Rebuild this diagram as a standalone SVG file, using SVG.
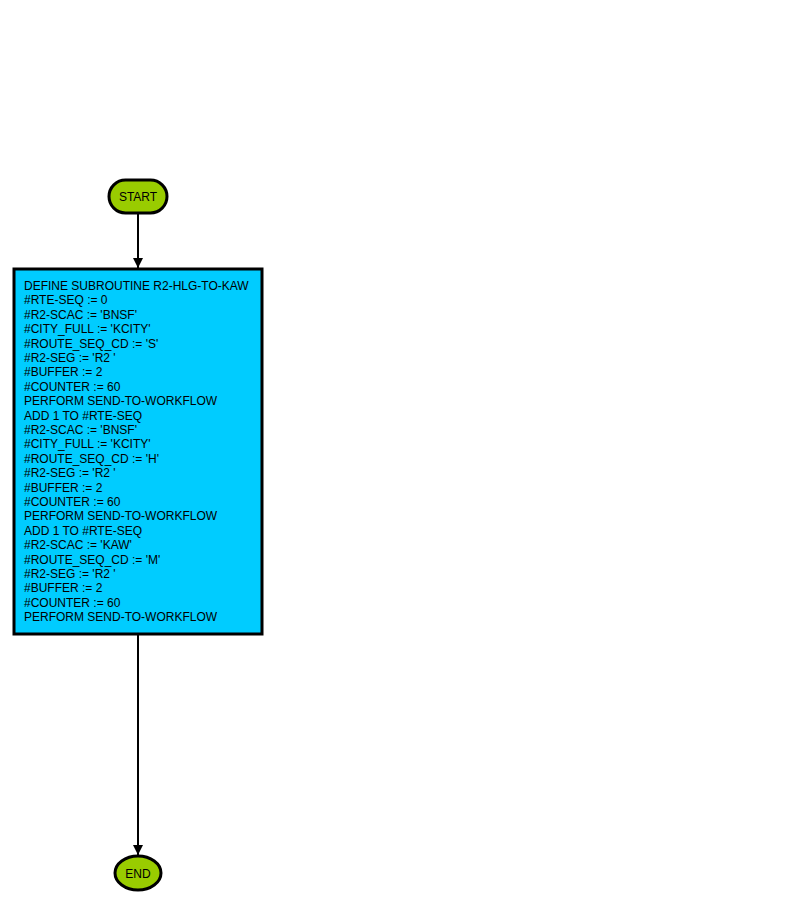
<svg xmlns="http://www.w3.org/2000/svg" width="800" height="901" viewBox="0 0 800 901">
<style>
.term{fill:#99cc00;stroke:#000;stroke-width:3}
.proc{fill:#00ccff;stroke:#000;stroke-width:3}
.lbl{font-family:"Liberation Sans",Arial,sans-serif;font-size:12px;fill:#000}
.edge{stroke:#000;stroke-width:2;fill:none;marker-end:url(#arr)}
</style>
<defs>
<marker id="arr" viewBox="0 0 10 10" refX="10" refY="5" markerWidth="5" markerHeight="5" orient="auto" markerUnits="strokeWidth">
<path d="M0,0 L10,5 L0,10 z" fill="#000"/>
</marker>
</defs>
<rect width="800" height="901" fill="#fff"/>
<g id="connectors">
<line class="edge" x1="138" y1="213" x2="138" y2="268"/>
<line class="edge" x1="138" y1="635" x2="138" y2="855"/>
</g>
<g id="start">
<rect class="term" x="109" y="180" width="58" height="33" rx="16.5" ry="16.5"/>
<text class="lbl" x="138" y="200.5" text-anchor="middle">START</text>
</g>
<g id="process">
<rect class="proc" x="14" y="269" width="248" height="365"/>
<text class="lbl" x="24" y="290">
<tspan x="24" dy="0">DEFINE SUBROUTINE R2-HLG-TO-KAW</tspan>
<tspan x="24" dy="14.4">#RTE-SEQ := 0</tspan>
<tspan x="24" dy="14.4">#R2-SCAC := 'BNSF'</tspan>
<tspan x="24" dy="14.4">#CITY_FULL := 'KCITY'</tspan>
<tspan x="24" dy="14.4">#ROUTE_SEQ_CD := 'S'</tspan>
<tspan x="24" dy="14.4">#R2-SEG := 'R2 '</tspan>
<tspan x="24" dy="14.4">#BUFFER := 2</tspan>
<tspan x="24" dy="14.4">#COUNTER := 60</tspan>
<tspan x="24" dy="14.4">PERFORM SEND-TO-WORKFLOW</tspan>
<tspan x="24" dy="14.4">ADD 1 TO #RTE-SEQ</tspan>
<tspan x="24" dy="14.4">#R2-SCAC := 'BNSF'</tspan>
<tspan x="24" dy="14.4">#CITY_FULL := 'KCITY'</tspan>
<tspan x="24" dy="14.4">#ROUTE_SEQ_CD := 'H'</tspan>
<tspan x="24" dy="14.4">#R2-SEG := 'R2 '</tspan>
<tspan x="24" dy="14.4">#BUFFER := 2</tspan>
<tspan x="24" dy="14.4">#COUNTER := 60</tspan>
<tspan x="24" dy="14.4">PERFORM SEND-TO-WORKFLOW</tspan>
<tspan x="24" dy="14.4">ADD 1 TO #RTE-SEQ</tspan>
<tspan x="24" dy="14.4">#R2-SCAC := 'KAW'</tspan>
<tspan x="24" dy="14.4">#ROUTE_SEQ_CD := 'M'</tspan>
<tspan x="24" dy="14.4">#R2-SEG := 'R2 '</tspan>
<tspan x="24" dy="14.4">#BUFFER := 2</tspan>
<tspan x="24" dy="14.4">#COUNTER := 60</tspan>
<tspan x="24" dy="14.4">PERFORM SEND-TO-WORKFLOW</tspan>
</text>
</g>
<g id="end">
<ellipse class="term" cx="138" cy="873" rx="23" ry="17"/>
<text class="lbl" x="138" y="877.5" text-anchor="middle">END</text>
</g>
</svg>
